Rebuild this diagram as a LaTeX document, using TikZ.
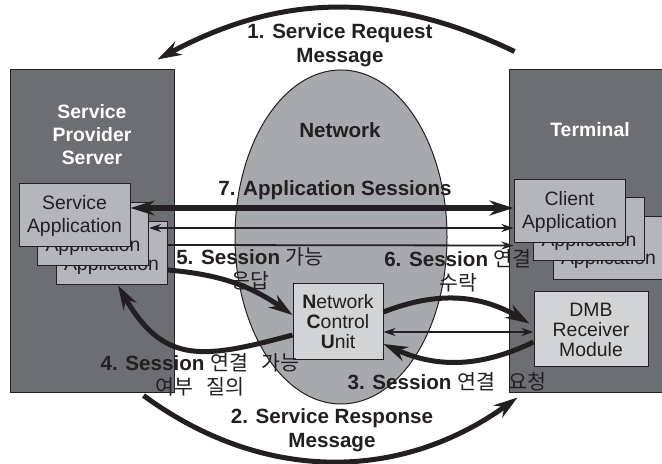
\documentclass[tikz,border=0pt]{standalone}
\usepackage{fontspec}
\setmainfont{Liberation Sans}
\newfontfamily\krfont{Noto Sans CJK KR}
\usetikzlibrary{arrows.meta,shapes.geometric}

\definecolor{panelgray}{HTML}{6D6E71}
\definecolor{netgray}{HTML}{A7A9AC}
\definecolor{appgray}{HTML}{B4B6B9}
\definecolor{unitgray}{HTML}{D1D3D4}
\definecolor{inkblack}{HTML}{231F20}

\newcommand{\ko}[1]{{\mdseries\krfont #1}}
\newcommand{\kgap}{\hspace{0.65em}}

\begin{document}
\begin{tikzpicture}[x=0.5pt,y=0.5pt,>={Stealth[length=12pt,width=7.5pt]},
		panel node/.style={draw=inkblack,fill=panelgray,line width=0.5pt,inner sep=0pt,minimum height=161.5pt},
		app node/.style={draw=inkblack,fill=appgray,line width=0.5pt,inner sep=0pt,minimum width=55.5pt,minimum height=31.5pt,align=center,text=inkblack,font=\fontsize{9.7}{11.5}\selectfont},
		unit node/.style={app node,fill=unitgray,font=\fontsize{9.7}{10}\selectfont},
		title node/.style={align=center,inner sep=0pt,text=white,font=\bfseries\fontsize{9.7}{11.5}\selectfont},
		label node/.style={align=center,inner sep=0pt,text=inkblack,font=\bfseries\fontsize{10.3}{12}\selectfont},
		flow/.style={->,line width=2.5pt,draw=inkblack},
		link/.style={line width=0.9pt,draw=inkblack,>={Stealth[length=6pt,width=4pt]}}]
	\useasboundingbox (0,0) rectangle (662,464);
	% server, network, terminal
	\node[panel node,minimum width=82pt] (sps) at (92,232.5) {};
	\node[panel node,minimum width=78.5pt] (term) at (587.5,232.5) {};
	\node[ellipse,draw=inkblack,fill=netgray,line width=0.5pt,inner sep=0pt,minimum width=106pt,minimum height=167pt] (net) at (341,227) {};
	\node[title node] (spstitle) at (92,329) {Service\\Provider\\Server};
	\node[title node] (termtitle) at (590,334) {Terminal};
	\node[label node] (nettitle) at (340,334) {Network};
	% applications
	\node[app node] (sapp3) at (111.5,210.5) {Service\\Application};
	\node[app node] (sapp2) at (93,229.5) {Service\\Application};
	\node[app node] (sapp1) at (74.5,248.5) {Service\\Application};
	\node[app node] (capp3) at (608.5,216) {Client\\Application};
	\node[app node] (capp2) at (589,234.5) {Client\\Application};
	\node[app node] (capp1) at (569.5,252.5) {Client\\Application};
	\node[unit node,minimum width=45pt,minimum height=38pt] (ncu) at (338,142) {\textbf{N}etwork\\\textbf{C}ontrol\\\textbf{U}nit};
	\node[unit node,minimum width=57pt,minimum height=37.5pt] (dmb) at (591,134.5) {DMB\\Receiver\\Module};
	% labels
	\node[label node] (l1) at (340,419) {1. Service Request\\Message};
	\node[label node] (l2) at (332,34) {2. Service Response\\Message};
	\node[label node] (l3) at (447,82) {3. Session \ko{연결}\kgap\ko{요청}};
	\node[label node] (l4) at (200,89) {4. Session \ko{연결}\kgap\ko{가능}\\\ko{여부}\kgap\ko{질의}};
	\node[label node] (l5) at (250,195) {5. Session \ko{가능}\\\ko{응답}};
	\node[label node] (l6) at (458,193) {6. Session \ko{연결}\\\ko{수락}};
	\node[label node] (l7) at (335,274) {7. Application Sessions};
	\path[]
		([xshift=3pt,yshift=9pt]term.north west) edge [flow,bend right=27] ([xshift=-8.5pt,yshift=5pt]sps.north east)
		([xshift=-15.5pt,yshift=-1pt]sps.south east) edge [flow,bend right=36] ([xshift=4.5pt,yshift=-2pt]term.south west)
		([yshift=-6.25pt]dmb.west) edge [flow,bend left=25] ([yshift=-11pt]ncu.east)
		([yshift=-6.5pt]ncu.west) edge [flow,out=195,in=-60,looseness=1.3] ([xshift=3.25pt]sapp3.south)
		([yshift=-8.25pt]sapp3.east) edge [flow,bend left=15] ([yshift=3.5pt]ncu.west)
		([yshift=5pt]ncu.east) edge [flow,bend left=26] ([xshift=-2pt,yshift=3pt]dmb.west);
	\path[]
		([yshift=3.75pt]sapp1.east) edge [flow,<->,line width=3pt] ([yshift=1.75pt]capp1.west)
		([yshift=3.25pt]sapp2.east) edge [link,<->] ([yshift=-8.25pt]capp1.west)
		([yshift=4.25pt]sapp3.east) edge [link,->] ([yshift=-1pt]capp1.south west)
		([yshift=-5pt]ncu.east) edge [link,<->] ([yshift=-1.25pt]dmb.west);
\end{tikzpicture}
\end{document}
